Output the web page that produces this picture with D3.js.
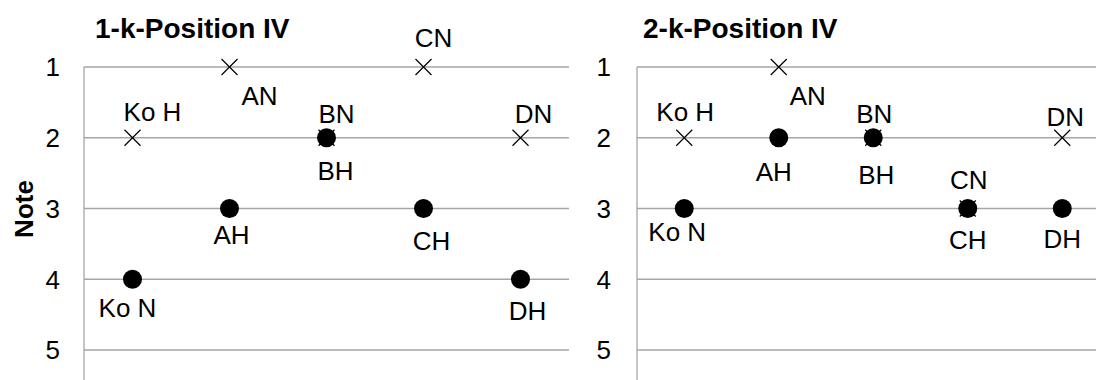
<!DOCTYPE html>
<html>
<head>
<meta charset="utf-8">
<script src="https://cdn.jsdelivr.net/npm/d3@7"></script>
<style>
  body { margin: 0; background: #fff; }
  svg { display: block; font-family: "Liberation Sans", Arial, sans-serif; }
</style>
</head>
<body>
<svg id="chart" width="1096" height="380"></svg>
<script>
// categories on the x axis
var categories = [1, 2, 3, 4, 5];
var noteTicks = [1, 2, 3, 4, 5];

// 1-k-Position IV
var p1CrossVals = [2, 1, 2, 1, 2];
var p1CrossLabels = ["Ko H", "AN", "BN", "CN", "DN"];
var p1DotVals = [4, 3, 2, 3, 4];
var p1DotLabels = ["Ko N", "AH", "BH", "CH", "DH"];

// 2-k-Position IV
var p2CrossVals = [2, 1, 2, 3, 2];
var p2CrossLabels = ["Ko H", "AN", "BN", "CN", "DN"];
var p2DotVals = [3, 2, 2, 3, 3];
var p2DotLabels = ["Ko N", "AH", "BH", "CH", "DH"];

// label offsets (dx, dy from point to label baseline centre)
var p1CrossOff = [[20, -17], [30, 38], [10, -15], [10, -20], [13, -15]];
var p1DotOff = [[-5, 38], [2, 35], [9, 42], [8, 41], [7, 41]];
var p2CrossOff = [[1, -17], [29, 38], [1, -15], [1, -20], [3, -12]];
var p2DotOff = [[-7, 32], [-5, 43], [3, 46], [0, 40], [0, 39]];

var svg = d3.select("#chart");

function drawPanel(opt) {
    var x = d3.scaleLinear().domain([0.5, 5.5]).range([opt.left, opt.left + 5 * opt.step]);
    var y = d3.scaleLinear().domain([1, 5]).range([67, 350]);
    var right = Math.min(x(5.5), 1096);

    var g = svg.append("g");

    // gridlines
    g.selectAll(".grid")
        .data(noteTicks)
        .enter().append("line")
        .attr("x1", opt.left).attr("x2", right)
        .attr("y1", function (d) { return y(d); })
        .attr("y2", function (d) { return y(d); })
        .attr("stroke", "#a6a6a6")
        .attr("stroke-width", 1.3);

    // y axis line
    g.append("line")
        .attr("x1", opt.left).attr("x2", opt.left)
        .attr("y1", y(1)).attr("y2", 380)
        .attr("stroke", "#a6a6a6")
        .attr("stroke-width", 1.3);

    // tick labels
    g.selectAll(".tick")
        .data(noteTicks)
        .enter().append("text")
        .attr("x", opt.left - opt.tickGap)
        .attr("y", function (d) { return y(d); })
        .attr("dy", "0.36em")
        .attr("text-anchor", "end")
        .style("font-size", "26px")
        .text(function (d) { return d; });

    // title
    g.append("text")
        .attr("x", opt.titleX)
        .attr("y", 38)
        .style("font-size", "28px")
        .style("font-weight", "bold")
        .text(opt.title);

    var s = 8;
    // crosses
    g.selectAll(".cross")
        .data(opt.crossVals)
        .enter().append("path")
        .attr("d", function (d, i) {
            var cx = x(categories[i]), cy = y(d);
            return "M" + (cx - s) + "," + (cy - s) + "L" + (cx + s) + "," + (cy + s) +
                "M" + (cx - s) + "," + (cy + s) + "L" + (cx + s) + "," + (cy - s);
        })
        .attr("stroke", "#000")
        .attr("stroke-width", 1.2)
        .attr("fill", "none");

    // dots
    g.selectAll(".dot")
        .data(opt.dotVals)
        .enter().append("circle")
        .attr("cx", function (d, i) { return x(categories[i]); })
        .attr("cy", function (d) { return y(d); })
        .attr("r", 9.5)
        .attr("fill", "#000");

    // labels
    g.selectAll(".clab")
        .data(opt.crossVals)
        .enter().append("text")
        .attr("x", function (d, i) { return x(categories[i]) + opt.crossOff[i][0]; })
        .attr("y", function (d, i) { return y(d) + opt.crossOff[i][1]; })
        .attr("text-anchor", "middle")
        .style("font-size", "26px")
        .text(function (d, i) { return opt.crossLabels[i]; });

    g.selectAll(".dlab")
        .data(opt.dotVals)
        .enter().append("text")
        .attr("x", function (d, i) { return x(categories[i]) + opt.dotOff[i][0]; })
        .attr("y", function (d, i) { return y(d) + opt.dotOff[i][1]; })
        .attr("text-anchor", "middle")
        .style("font-size", "26px")
        .text(function (d, i) { return opt.dotLabels[i]; });
}

drawPanel({
    left: 84, step: 97, titleX: 95, tickGap: 24,
    title: "1-k-Position IV",
    crossVals: p1CrossVals, crossLabels: p1CrossLabels, crossOff: p1CrossOff,
    dotVals: p1DotVals, dotLabels: p1DotLabels, dotOff: p1DotOff
});

drawPanel({
    left: 637, step: 94.5, titleX: 643, tickGap: 26,
    title: "2-k-Position IV",
    crossVals: p2CrossVals, crossLabels: p2CrossLabels, crossOff: p2CrossOff,
    dotVals: p2DotVals, dotLabels: p2DotLabels, dotOff: p2DotOff
});

// y axis title
svg.append("text")
    .attr("transform", "translate(33,209) rotate(-90)")
    .attr("text-anchor", "middle")
    .style("font-size", "26px")
    .style("font-weight", "bold")
    .text("Note");
</script>
</body>
</html>
